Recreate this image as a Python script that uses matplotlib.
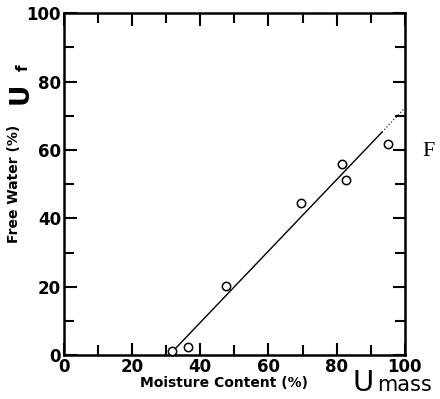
import matplotlib
matplotlib.use("Agg")
import matplotlib.pyplot as plt
from matplotlib.ticker import MultipleLocator

# data
moisture = [31.7, 36.4, 47.5, 69.5, 81.5, 82.7, 95.0]
free_water = [1.2, 2.3, 20.2, 44.4, 55.8, 51.2, 61.7]
fit_x = [32.8, 93.3]
fit_y = [2.0, 65.2]
fit_ext_x = [93.3, 100.0]
fit_ext_y = [65.2, 72.3]
ticks = [0, 20, 40, 60, 80, 100]

fig = plt.figure(figsize=(4.4, 3.99), dpi=100)
ax = fig.add_axes([0.145, 0.11, 0.775, 0.857])

ax.plot(moisture, free_water, "o", mfc="white", mec="black", ms=6, mew=1.1, clip_on=False, zorder=3)
ax.plot(fit_x, fit_y, color="black", lw=1.0)
ax.plot(fit_ext_x, fit_ext_y, color="black", lw=0.8, ls=(0, (1, 2)))

ax.set_xlim(0, 100)
ax.set_ylim(0, 100)
ax.set_xticks(ticks)
ax.set_yticks(ticks)
ax.xaxis.set_minor_locator(MultipleLocator(10))
ax.yaxis.set_minor_locator(MultipleLocator(10))
ax.tick_params(which="both", direction="in", top=True, right=True, labeltop=False, labelright=False, width=1.5)
ax.tick_params(which="major", length=9, labelsize=12, pad=2)
ax.tick_params(which="minor", length=7)
for lab in ax.get_xticklabels() + ax.get_yticklabels():
    lab.set_fontweight("bold")
for s in ax.spines.values():
    s.set_linewidth(1.8)

ax.set_ylabel("Free Water (%)", fontsize=10, fontweight="bold", labelpad=4)
ax.set_xlabel("Moisture Content (%)", fontsize=10, fontweight="bold", labelpad=0)
ax.xaxis.set_label_coords(0.47, -0.06)

fig.text(0.048, 0.765, "U", fontsize=19, fontweight="bold", rotation=90, ha="center", va="center")
fig.text(0.052, 0.83, "f", fontsize=11, fontweight="bold", rotation=90, ha="center", va="center")
fig.text(0.80, 0.04, "U", fontsize=21, ha="left", va="center")
fig.text(0.857, 0.035, "mass", fontsize=15, ha="left", va="center")
fig.text(0.975, 0.62, "F", fontsize=16, family="Liberation Serif", ha="center", va="center")

fig.savefig("out.png", dpi=100)
